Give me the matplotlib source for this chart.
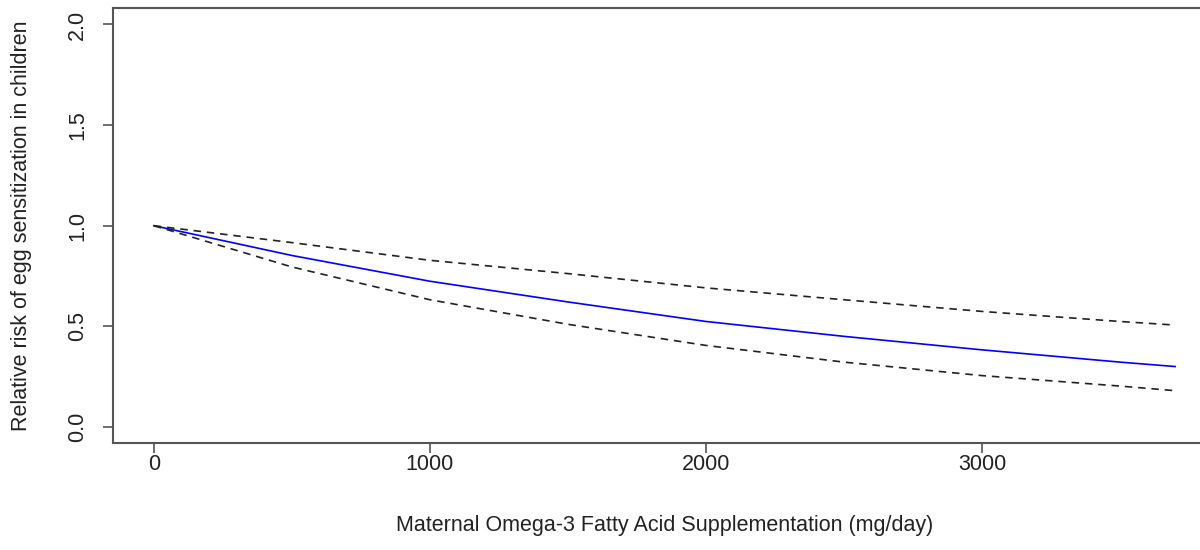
import numpy as np
import matplotlib
matplotlib.use('Agg')
import matplotlib.pyplot as plt

plt.rcParams['font.family'] = ['Liberation Sans', 'DejaVu Sans']

# values
dose = [0, 500, 1000, 1500, 2000, 2500, 3000, 3500, 3700]
rr = [1.0, 0.852, 0.724, 0.621, 0.524, 0.450, 0.383, 0.322, 0.300]
rr_upper = [1.0, 0.916, 0.828, 0.762, 0.691, 0.632, 0.574, 0.524, 0.506]
rr_lower = [1.0, 0.795, 0.632, 0.510, 0.405, 0.322, 0.255, 0.203, 0.180]

x_ticks = [0, 1000, 2000, 3000]
y_ticks = [0.0, 0.5, 1.0, 1.5, 2.0]

text_col = '#222222'
axis_col = '#555555'

fig = plt.figure(figsize=(12, 5.5), dpi=100)
# right side of the box runs past the figure edge, like the cropped original
ax = fig.add_axes([113 / 1200, 1 - 443 / 550, 1103 / 1200, 434.6 / 550])

ax.plot(dose, rr, color='#0000ff', lw=1.2)
ax.plot(dose, rr_upper, color='#222222', lw=1.2, dashes=(4.5, 3.5))
ax.plot(dose, rr_lower, color='#222222', lw=1.2, dashes=(4.5, 3.5))

ax.set_xlim(-148, 3848)
ax.set_ylim(-0.08, 2.08)
ax.set_xticks(x_ticks)
ax.set_yticks(y_ticks)
ax.set_xticklabels([str(t) for t in x_ticks])
ax.set_yticklabels(['{:.1f}'.format(t) for t in y_ticks], rotation=90, va='center')

for s in ax.spines.values():
    s.set_color(axis_col)
    s.set_linewidth(1.5)
ax.tick_params(axis='both', length=7, width=1.2, color=axis_col,
               labelcolor=text_col, labelsize=15.5)
ax.tick_params(axis='x', pad=1)
ax.tick_params(axis='y', pad=11)

ax.set_xlabel('Maternal Omega-3 Fatty Acid Supplementation (mg/day)',
              fontsize=15.5, color=text_col, labelpad=29)
ax.set_ylabel('Relative risk of egg sensitization in children',
              fontsize=15.5, color=text_col, labelpad=25)

plt.savefig('out.png', dpi=100)
